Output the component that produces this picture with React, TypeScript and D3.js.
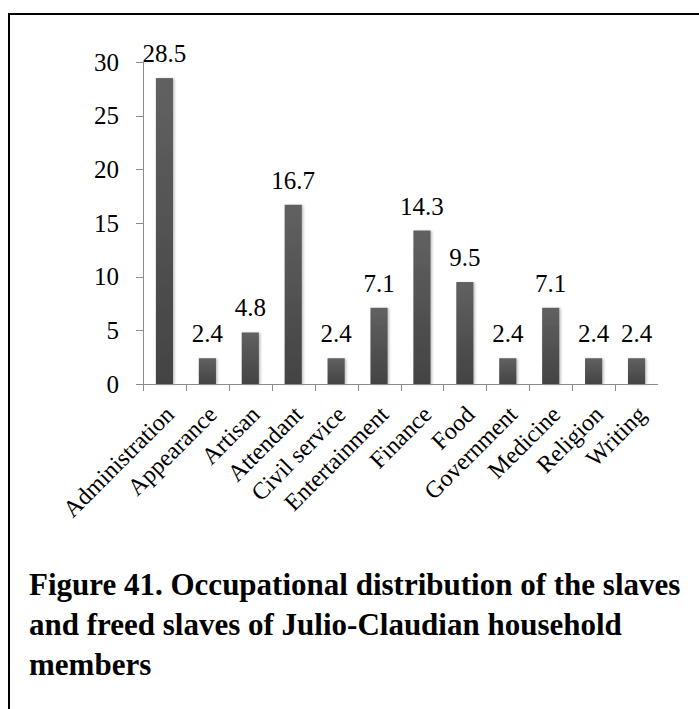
import { useEffect, useRef } from 'react'
import * as d3 from 'd3'

const categories = [
  'Administration',
  'Appearance',
  'Artisan',
  'Attendant',
  'Civil service',
  'Entertainment',
  'Finance',
  'Food',
  'Government',
  'Medicine',
  'Religion',
  'Writing',
]
const values = [28.5, 2.4, 4.8, 16.7, 2.4, 7.1, 14.3, 9.5, 2.4, 7.1, 2.4, 2.4]
const yTicks = [0, 5, 10, 15, 20, 25, 30]
const captionLines = [
  'Figure 41. Occupational distribution of the slaves',
  'and freed slaves of Julio-Claudian household',
  'members',
]

const W = 699
const H = 709
const serif = '"Liberation Serif", "Times New Roman", serif'

export default function App() {
  const svgRef = useRef<SVGSVGElement>(null)

  useEffect(() => {
    if (!svgRef.current) return
    const svg = d3.select(svgRef.current)
    svg.selectAll('*').remove()

    const plot = { left: 143, right: 658, top: 62, bottom: 384 }

    const x = d3.scaleBand<string>()
      .domain(categories)
      .range([plot.left, plot.right])
      .paddingInner(0.6)
      .paddingOuter(0.3)

    const y = d3.scaleLinear()
      .domain([0, 30])
      .range([plot.bottom, plot.top])

    const defs = svg.append('defs')
    const grad = defs.append('linearGradient')
      .attr('id', 'barGrad')
      .attr('x1', 0).attr('y1', 0).attr('x2', 0).attr('y2', 1)
    grad.append('stop').attr('offset', '0%').attr('stop-color', '#616161')
    grad.append('stop').attr('offset', '100%').attr('stop-color', '#434343')

    const shadow = defs.append('filter').attr('id', 'barShadow')
      .attr('x', '-30%').attr('y', '-10%').attr('width', '160%').attr('height', '120%')
    shadow.append('feDropShadow')
      .attr('dx', 1.5).attr('dy', 0.5).attr('stdDeviation', 1.2)
      .attr('flood-color', '#000').attr('flood-opacity', 0.25)

    svg.append('rect').attr('width', W).attr('height', H).attr('fill', '#fff')

    // frame (only top and left edges show in the crop)
    svg.append('line')
      .attr('x1', 8).attr('x2', W).attr('y1', 14).attr('y2', 14)
      .attr('stroke', '#000').attr('stroke-width', 2)
    svg.append('line')
      .attr('x1', 9).attr('x2', 9).attr('y1', 13).attr('y2', H)
      .attr('stroke', '#000').attr('stroke-width', 2)

    const axisColor = '#8c8c8c'

    // y axis
    svg.append('line')
      .attr('x1', plot.left + 0.5).attr('x2', plot.left + 0.5)
      .attr('y1', y(30)).attr('y2', y(0))
      .attr('stroke', axisColor)
    svg.selectAll('.ytick')
      .data(yTicks)
      .enter()
      .append('line')
      .attr('class', 'ytick')
      .attr('x1', plot.left - 7).attr('x2', plot.left)
      .attr('y1', d => Math.round(y(d)) + 0.5).attr('y2', d => Math.round(y(d)) + 0.5)
      .attr('stroke', axisColor)
    svg.selectAll('.ylabel')
      .data(yTicks)
      .enter()
      .append('text')
      .attr('class', 'ylabel')
      .attr('x', plot.left - 24)
      .attr('y', d => y(d))
      .attr('dy', '0.35em')
      .attr('text-anchor', 'end')
      .attr('font-family', serif)
      .attr('font-size', 25)
      .attr('fill', '#000')
      .text(d => d)

    // bars
    svg.selectAll('.bar')
      .data(values)
      .enter()
      .append('rect')
      .attr('class', 'bar')
      .attr('x', (_, i) => x(categories[i])!)
      .attr('y', d => y(d))
      .attr('width', x.bandwidth())
      .attr('height', d => y(0) - y(d))
      .attr('fill', 'url(#barGrad)')
      .attr('filter', 'url(#barShadow)')

    // x axis
    svg.append('line')
      .attr('x1', plot.left).attr('x2', plot.right)
      .attr('y1', y(0) + 0.5).attr('y2', y(0) + 0.5)
      .attr('stroke', axisColor)
    const step = x.step()
    const bounds = categories.map(c => x(c)! + x.bandwidth() / 2 - step / 2)
    svg.selectAll('.xtick')
      .data(bounds)
      .enter()
      .append('line')
      .attr('class', 'xtick')
      .attr('x1', d => Math.round(d) + 0.5).attr('x2', d => Math.round(d) + 0.5)
      .attr('y1', y(0)).attr('y2', y(0) + 7)
      .attr('stroke', axisColor)

    // value labels
    svg.selectAll('.vlabel')
      .data(values)
      .enter()
      .append('text')
      .attr('class', 'vlabel')
      .attr('x', (_, i) => x(categories[i])! + x.bandwidth() / 2)
      .attr('y', d => y(d) - 16)
      .attr('text-anchor', 'middle')
      .attr('font-family', serif)
      .attr('font-size', 25)
      .attr('fill', '#000')
      .text(d => d.toFixed(1))

    // category labels, rotated
    svg.selectAll('.xlabel')
      .data(categories)
      .enter()
      .append('text')
      .attr('class', 'xlabel')
      .attr('transform', d => `translate(${x(d)! + x.bandwidth() / 2 + 11},${y(0) + 32}) rotate(-45)`)
      .attr('text-anchor', 'end')
      .attr('font-family', serif)
      .attr('font-size', 24)
      .attr('fill', '#000')
      .text(d => d)

    // caption
    svg.selectAll('.caption')
      .data(captionLines)
      .enter()
      .append('text')
      .attr('class', 'caption')
      .attr('x', 29)
      .attr('y', (_, i) => 595 + i * 40)
      .attr('font-family', serif)
      .attr('font-weight', 'bold')
      .attr('font-size', 31)
      .attr('fill', '#000')
      .text(d => d)
  }, [])

  return (
    <div style={{ position: 'fixed', left: 0, top: 0 }}>
      <svg ref={svgRef} width={W} height={H} style={{ display: 'block' }} />
    </div>
  )
}
